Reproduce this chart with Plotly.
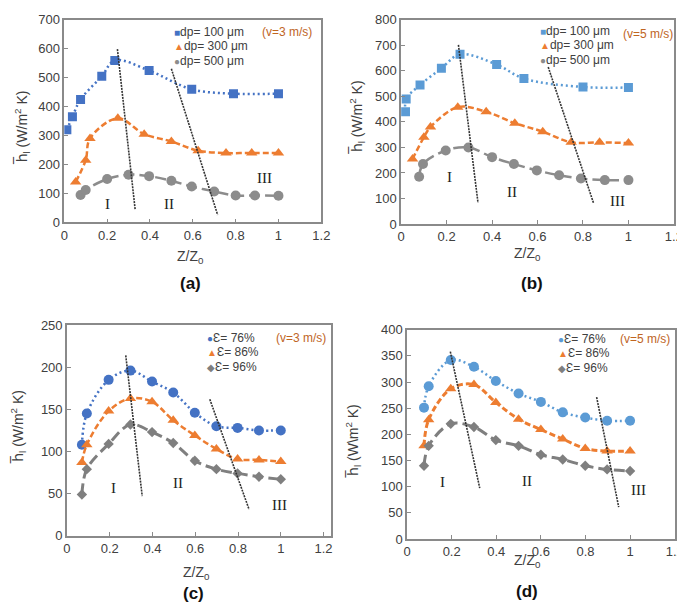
import plotly.graph_objects as go

W, H = 685, 604

# ---------------- data ----------------
# (a) v=3 m/s, particle diameters
a_x100 = [0.012, 0.038, 0.076, 0.175, 0.236, 0.396, 0.595, 0.79, 1.0]
a_y100 = [320, 365, 425, 505, 560, 525, 460, 445, 445]
a_x300 = [0.053, 0.10, 0.12, 0.25, 0.373, 0.50, 0.625, 0.755, 0.875, 1.0]
a_y300 = [140, 215, 290, 360, 305, 280, 248, 240, 240, 240]
a_x500 = [0.076, 0.10, 0.20, 0.30, 0.396, 0.50, 0.595, 0.70, 0.80, 0.89, 1.0]
a_y500 = [95, 112, 150, 165, 160, 144, 124, 107, 93, 93, 92]

# (b) v=5 m/s, particle diameters
b_x100 = [0.019, 0.022, 0.083, 0.177, 0.259, 0.42, 0.54, 0.80, 1.0]
b_y100 = [440, 490, 545, 610, 665, 625, 570, 537, 535]
b_x300 = [0.05, 0.10, 0.129, 0.249, 0.374, 0.50, 0.623, 0.748, 0.873, 1.0]
b_y300 = [255, 340, 380, 458, 440, 395, 362, 320, 320, 317]
b_x500 = [0.079, 0.096, 0.196, 0.296, 0.40, 0.496, 0.597, 0.695, 0.791, 0.896, 1.0]
b_y500 = [185, 235, 288, 300, 262, 235, 210, 191, 178, 172, 172]

# (c) v=3 m/s, porosity
c_x = [0.07, 0.093, 0.195, 0.297, 0.398, 0.497, 0.598, 0.699, 0.798, 0.898, 1.0]
c_y76 = [108, 145, 185, 196, 183, 170, 146, 130, 128, 125, 125]
c_y86 = [87, 108, 148, 163, 159, 137, 119, 103, 91, 90, 88]
c_y96 = [49, 79, 109, 132, 123, 110, 89, 79, 74, 70, 67]

# (d) v=5 m/s, porosity
d_x = [0.076, 0.097, 0.196, 0.30, 0.398, 0.50, 0.60, 0.698, 0.799, 0.897, 1.0]
d_y76 = [251, 292, 342, 329, 302, 278, 262, 242, 232, 226, 226]
d_y86 = [178, 228, 287, 295, 261, 229, 209, 191, 173, 168, 168]
d_y96 = [140, 178, 220, 214, 189, 178, 161, 152, 140, 133, 130]

# zone dividers  ([x0, x1], [y0, y1])
div_a = [([0.248, 0.331], [599, 43]), ([0.50, 0.716], [531, 26])]
div_b = [([0.252, 0.338], [702, 83]), ([0.647, 0.846], [615, 83])]
div_c = [([0.275, 0.352], [214, 47]), ([0.668, 0.852], [162, 31])]
div_d = [([0.194, 0.326], [358, 97]), ([0.850, 0.949], [271, 61])]

# zone labels (x, y)
zone_names = ["I", "II", "III"]
zones_a = [(0.203, 63), (0.488, 63), (0.934, 155)]
zones_b = [(0.213, 185), (0.486, 127), (0.952, 90)]
zones_c = [(0.220, 57), (0.520, 63), (0.994, 36)]
zones_d = [(0.157, 108), (0.538, 111), (1.040, 93)]

dp_names = ["dp= 100 μm", "dp= 300 μm", "dp= 500 μm"]
eps_names = ["Ɛ= 76%", "Ɛ= 86%", "Ɛ= 96%"]
panel_labels = ["(a)", "(b)", "(c)", "(d)"]
speed_labels = ["(v=3 m/s)", "(v=5 m/s)", "(v=3 m/s)", "(v=5 m/s)"]

# ---------------- style ----------------
BLUE = "#4472C4"
LBLUE = "#5B9BD5"
ORANGE = "#ED7D31"
GRAY = "#8C8C8C"
DGRAY = "#7F7F7F"
SANS = "Liberation Sans, Arial, sans-serif"
SERIF = "Liberation Serif, Times New Roman, serif"
AXC = "#8a8a8a"
TXT = "#404040"

dot = "2px,3px"
dash = "6px,3px"
ldash = "11px,5px"


def px(x):
    return x / W


def py(y):
    return 1 - y / H


# panel pixel geometry: (left, right, top, bottom) of the plot area, x max, y max, y step
panels = [
    dict(l=53.3, r=315.3, t=5.0, b=212.7, xmax=1.2, ymax=700, dy=100),
    dict(l=396.7, r=674.7, t=5.0, b=214.3, xmax=1.2, ymax=800, dy=100),
    dict(l=56.0, r=325.0, t=318.0, b=534.0, xmax=1.234, ymax=250, dy=50),
    dict(l=402.7, r=675.5, t=322.7, b=537.3, xmax=1.2, ymax=400, dy=50),
]

fig = go.Figure()
layout = dict(
    width=W, height=H, margin=dict(l=0, r=0, t=0, b=0),
    paper_bgcolor="white", plot_bgcolor="white", showlegend=False,
    font=dict(family=SANS, size=13, color=TXT),
)

for i, p in enumerate(panels):
    sfx = "" if i == 0 else str(i + 1)
    layout["xaxis" + sfx] = dict(
        domain=[px(p["l"]), px(p["r"])], anchor="y" + sfx, range=[0, p["xmax"]],
        tickvals=[0, 0.2, 0.4, 0.6, 0.8, 1, 1.2], ticktext=["0", "0.2", "0.4", "0.6", "0.8", "1", "1.2"],
        showgrid=False, zeroline=False, showline=True, linecolor=AXC, linewidth=1.5, mirror=True,
        ticks="inside", ticklen=4, tickcolor=AXC, tickfont=dict(size=13, color=TXT),
    )
    layout["yaxis" + sfx] = dict(
        domain=[py(p["b"]), py(p["t"])], anchor="x" + sfx, range=[0, p["ymax"]], dtick=p["dy"],
        showgrid=False, zeroline=False, showline=True, linecolor=AXC, linewidth=1.5, mirror=True,
        ticks="inside", ticklen=4, tickcolor=AXC, tickfont=dict(size=13, color=TXT),
    )


def add_series(i, x, y, color, symbol, size, dashstyle, width=2.5):
    sfx = "" if i == 0 else str(i + 1)
    fig.add_trace(go.Scatter(
        x=x, y=y, mode="lines+markers", xaxis="x" + sfx, yaxis="y" + sfx,
        line=dict(color=color, dash=dashstyle, width=width, shape="spline", smoothing=1.0),
        marker=dict(symbol=symbol, size=size, color=color), showlegend=False,
    ))


add_series(0, a_x100, a_y100, BLUE, "square", 9, dot)
add_series(0, a_x300, a_y300, ORANGE, "triangle-up", 10, dash)
add_series(0, a_x500, a_y500, GRAY, "circle", 10, ldash)

add_series(1, b_x100, b_y100, LBLUE, "square", 9, dot)
add_series(1, b_x300, b_y300, ORANGE, "triangle-up", 10, dash)
add_series(1, b_x500, b_y500, GRAY, "circle", 10, ldash)

add_series(2, c_x, c_y76, BLUE, "circle", 10, dot)
add_series(2, c_x, c_y86, ORANGE, "triangle-up", 10, dash)
add_series(2, c_x, c_y96, DGRAY, "diamond", 8, ldash, 3)

add_series(3, d_x, d_y76, LBLUE, "circle", 10, dot)
add_series(3, d_x, d_y86, ORANGE, "triangle-up", 10, dash, 3)
add_series(3, d_x, d_y96, DGRAY, "diamond", 8, ldash, 3)

# dividers
for i, divs in enumerate([div_a, div_b, div_c, div_d]):
    sfx = "" if i == 0 else str(i + 1)
    for xs, ys in divs:
        fig.add_trace(go.Scatter(
            x=xs, y=ys, mode="lines", xaxis="x" + sfx, yaxis="y" + sfx,
            line=dict(color="#333333", width=1.6, dash="2px,1px"), showlegend=False,
        ))

ann = []
# zone labels
for i, zones in enumerate([zones_a, zones_b, zones_c, zones_d]):
    sfx = "" if i == 0 else str(i + 1)
    for name, (zx, zy) in zip(zone_names, zones):
        ann.append(dict(x=zx, y=zy, xref="x" + sfx, yref="y" + sfx, text=name, showarrow=False,
                        font=dict(family=SERIF, size=15, color="#222222")))

# legends (marker glyph + label)
legend_specs = [
    (163, [17, 32, 47], dp_names, [(BLUE, "■"), (ORANGE, "▲"), (GRAY, "●")], (280, 17)),
    (536, [16, 31, 46], dp_names, [(LBLUE, "■"), (ORANGE, "▲"), (GRAY, "●")], (648, 19)),
    (197, [331, 346, 361], eps_names, [(BLUE, "●"), (ORANGE, "▲"), (DGRAY, "◆")], (295, 331)),
    (555, [332, 347, 362], eps_names, [(LBLUE, "●"), (ORANGE, "▲"), (DGRAY, "◆")], (645, 332)),
]
for k, (lx, rows, names, glyphs, vpos) in enumerate(legend_specs):
    for ry, nm, (col, g) in zip(rows, names, glyphs):
        ann.append(dict(x=px(lx), y=py(ry), xref="paper", yref="paper", xanchor="left", yanchor="middle",
                        text=f'<span style="color:{col};font-size:10px">{g}</span>{nm}',
                        showarrow=False, font=dict(size=12, color=TXT)))
    ann.append(dict(x=px(vpos[0]), y=py(vpos[1]), xref="paper", yref="paper", xanchor="center",
                    yanchor="middle", text=speed_labels[k], showarrow=False,
                    font=dict(size=12, color="#C0651F")))

# axis titles and panel labels
hbar = '<span style="font-family:DejaVu Sans">h\u0305</span>'
ytitle = hbar + "<sub>l</sub> (W/m<sup>2</sup> K)"
ytitle_d = hbar + "<sub>l</sub> (W\\m<sup>2</sup> K)"
ytitle_pos = [(10, 116, ytitle), (352, 105, ytitle), (7, 423, ytitle), (348, 437, ytitle_d)]
for tx, ty, t in ytitle_pos:
    ann.append(dict(x=px(tx), y=py(ty), xref="paper", yref="paper", text=t, textangle=-90,
                    showarrow=False, xanchor="center", yanchor="middle", font=dict(size=14, color=TXT)))
xtitle_pos = [(182, 248), (525, 245), (188, 572), (525, 560)]
for tx, ty in xtitle_pos:
    ann.append(dict(x=px(tx), y=py(ty), xref="paper", yref="paper", text="Z/Z<sub>0</sub>",
                    showarrow=False, xanchor="center", yanchor="middle", font=dict(size=14, color=TXT)))
label_pos = [(182, 275), (530, 275), (185, 593), (525, 591)]
for (tx, ty), lab in zip(label_pos, panel_labels):
    ann.append(dict(x=px(tx), y=py(ty), xref="paper", yref="paper", text=f"<b>{lab}</b>",
                    showarrow=False, xanchor="center", yanchor="middle", font=dict(size=17, color="#111111")))

layout["annotations"] = ann
fig.update_layout(**layout)
fig.write_html("out.html")
